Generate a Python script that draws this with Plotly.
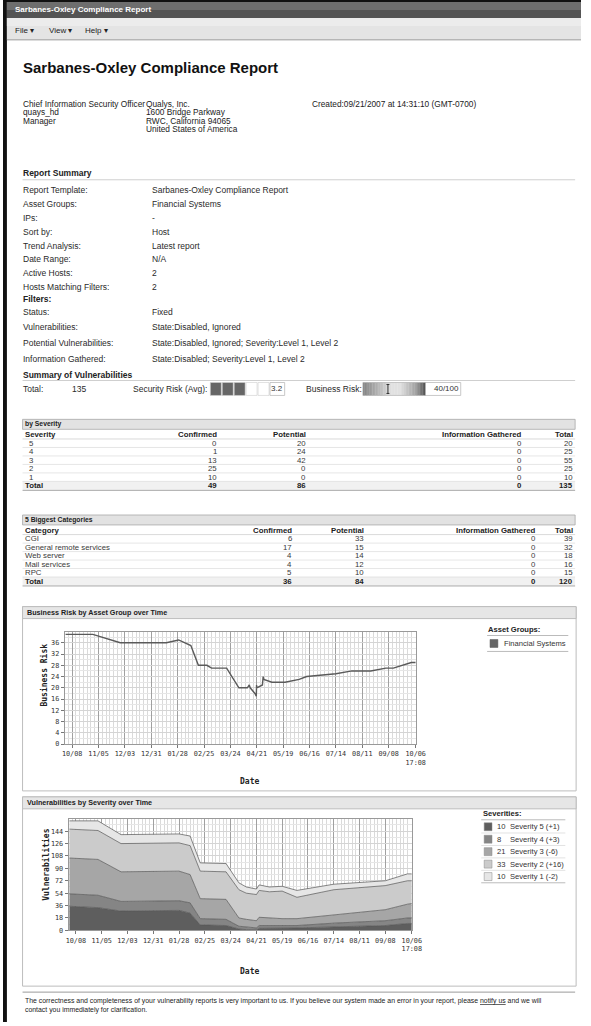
import plotly.graph_objects as go

W, H = 591, 1026
SANS = "Liberation Sans, Arial, Helvetica, sans-serif"
MONO = "DejaVu Sans Mono, Liberation Mono, monospace"

# ---------------- data ----------------
report_title = "Sarbanes-Oxley Compliance Report"
menu_items = ["File \u25be", "View \u25be", "Help \u25be"]
owner_lines = ["Chief Information Security Officer", "quays_hd", "Manager"]
address_lines = ["Qualys, Inc.", "1600 Bridge Parkway", "RWC, California 94065", "United States of America"]
created_text = "Created:09/21/2007 at 14:31:10 (GMT-0700)"

summary_labels = ["Report Template:", "Asset Groups:", "IPs:", "Sort by:", "Trend Analysis:",
                  "Date Range:", "Active Hosts:", "Hosts Matching Filters:"]
summary_values = ["Sarbanes-Oxley Compliance Report", "Financial Systems", "-", "Host",
                  "Latest report", "N/A", "2", "2"]
filter_labels = ["Status:", "Vulnerabilities:", "Potential Vulnerabilities:", "Information Gathered:"]
filter_values = ["Fixed", "State:Disabled, Ignored",
                 "State:Disabled, Ignored; Severity:Level 1, Level 2",
                 "State:Disabled; Severity:Level 1, Level 2"]

total_vulns = 135
security_risk_avg = 3.2
business_risk = 40

sev_columns = ["Severity", "Confirmed", "Potential", "Information Gathered", "Total"]
sev_levels = ["5", "4", "3", "2", "1"]
sev_confirmed = [0, 1, 13, 25, 10]
sev_potential = [20, 24, 42, 0, 0]
sev_info = [0, 0, 0, 0, 0]
sev_total = [20, 25, 55, 25, 10]

cat_columns = ["Category", "Confirmed", "Potential", "Information Gathered", "Total"]
cat_names = ["CGI", "General remote services", "Web server", "Mail services", "RPC"]
cat_confirmed = [6, 17, 4, 4, 5]
cat_potential = [33, 15, 14, 12, 10]
cat_info = [0, 0, 0, 0, 0]
cat_total = [39, 32, 18, 16, 15]

tick_dates = ["2007-10-08", "2007-11-05", "2007-12-03", "2007-12-31", "2008-01-28", "2008-02-25",
              "2008-03-24", "2008-04-21", "2008-05-19", "2008-06-16", "2008-07-14", "2008-08-11",
              "2008-09-08", "2008-10-06 17:08"]
tick_labels = ["10/08", "11/05", "12/03", "12/31", "01/28", "02/25", "03/24", "04/21", "05/19",
               "06/16", "07/14", "08/11", "09/08", "10/06<br>17:08"]

risk_dates = ["2007-10-01", "2007-10-30", "2007-11-28", "2008-01-16", "2008-01-29", "2008-02-11",
              "2008-02-19", "2008-02-28", "2008-03-04", "2008-03-20", "2008-04-02", "2008-04-11",
              "2008-04-13", "2008-04-14", "2008-04-19", "2008-04-20 12:00", "2008-04-20 18:00",
              "2008-04-21", "2008-04-27", "2008-04-27 18:00", "2008-04-28 12:00", "2008-05-07",
              "2008-05-21", "2008-06-05", "2008-06-13", "2008-07-01", "2008-07-14", "2008-07-31",
              "2008-08-20", "2008-09-05", "2008-09-13", "2008-10-02", "2008-10-06 17:08"]
risk_values = [39, 39, 36, 36, 37, 35,
               28, 28, 27, 27, 20, 20,
               21, 20, 18, 17, 21,
               20, 21, 24, 23, 22,
               22, 23, 24, 24.5, 25, 26,
               26, 27, 27, 29, 29]

vuln_dates = ["2007-10-01", "2007-11-01", "2007-11-26", "2008-01-28", "2008-02-09", "2008-02-20",
              "2008-03-19", "2008-04-02", "2008-04-10", "2008-04-21", "2008-04-24", "2008-05-05",
              "2008-05-19", "2008-06-04", "2008-07-14", "2008-09-08", "2008-10-02", "2008-10-06 17:08"]
sev5 = [35, 33, 28, 29, 25, 8, 7, 2, 1, 0.5, 3, 3, 3.5, 3.5, 5, 7, 10, 10]
sev4 = [18, 18, 14, 14, 15, 9, 9, 4, 4, 3, 4, 4, 3.5, 3.5, 5.5, 7, 8, 8]
sev3 = [52, 52, 43, 43, 41, 29, 29, 12, 11, 10.5, 12, 11, 10, 10, 11.5, 16, 20, 21]
sev2 = [42, 42, 41, 41, 42, 40, 40, 41, 38, 38, 39, 38, 40, 31, 37, 35, 34, 33]
sev1 = [12, 14, 13, 13, 14, 12, 12, 10, 9, 8, 8, 7, 7, 10, 8, 7, 10, 10]
sev_series_names = ["Severity 5", "Severity 4", "Severity 3", "Severity 2", "Severity 1"]
sev_legend_counts = [10, 8, 21, 33, 10]
sev_legend_deltas = ["+1", "+3", "-6", "+16", "-2"]
sev_colors = ["#5e5e5e", "#858585", "#a6a6a6", "#cbcbcb", "#e6e6e6"]

# ---------------- helpers ----------------
shapes, annotations = [], []


def X(x):
    return x / W


def Y(y):
    return 1 - y / H


def rect(x0, y0, x1, y1, fill=None, line=None, lw=1, layer="below"):
    shapes.append(dict(type="rect", xref="paper", yref="paper", x0=X(x0), x1=X(x1), y0=Y(y1), y1=Y(y0),
                       fillcolor=fill or "rgba(0,0,0,0)",
                       line=dict(color=line or "rgba(0,0,0,0)", width=lw if line else 0), layer=layer))


def seg(x0, y0, x1, y1, color="#bbb", w=1, layer="above"):
    shapes.append(dict(type="line", xref="paper", yref="paper", x0=X(x0), x1=X(x1), y0=Y(y0), y1=Y(y1),
                       line=dict(color=color, width=w), layer=layer))


def text(x, y, s, size=8.5, color="#222", bold=False, anchor="left", family=SANS, angle=0):
    annotations.append(dict(xref="paper", yref="paper", x=X(x), y=Y(y), text=f"<b>{s}</b>" if bold else s,
                            showarrow=False, xanchor=anchor, yanchor="middle", textangle=angle,
                            font=dict(size=size, color=color, family=family), borderpad=0,
                            borderwidth=0))


# ---------------- page chrome ----------------
rect(0, 0, W, 2, fill="#111")
rect(0, 0, 4, H, fill="#111")
rect(4, 2, W, 10, fill="#6e6e6e")
rect(4, 10, W, 18, fill="#545454")
text(12, 10, report_title, size=8, color="white", bold=True)
rect(4, 18, W, 40, fill="#e4e4e4")
rect(4, 18, W, 26, fill="#ececec")
seg(4, 40, W, 40, color="#9a9a9a", w=1)
for xm, m in zip([12, 47, 84], menu_items):
    text(xm, 31, m, size=8, color="#222")

text(20, 68, report_title, size=15, color="#111", bold=True)

for i, s in enumerate(owner_lines):
    text(20, 104 + 8.5 * i, s, size=8.3)
for i, s in enumerate(address_lines):
    text(146.5, 104 + 8.5 * i, s, size=8.3)
text(316, 104, created_text, size=8.3)

# ---------------- report summary ----------------
text(20, 174, "Report Summary", size=8.5, bold=True)
seg(20, 180.5, 585, 180.5, color="#cfcfcf")
for i, (lab, val) in enumerate(zip(summary_labels, summary_values)):
    yy = 190.5 + 14 * i
    text(20, yy, lab, size=8.5, color="#2a2a2a")
    text(152, yy, val, size=8.5, color="#2a2a2a")
text(20, 300, "Filters:", size=8.5, bold=True)
for yy, lab, val in zip([313, 328, 344, 360], filter_labels, filter_values):
    text(20, yy, lab, size=8.5, color="#2a2a2a")
    text(152, yy, val, size=8.5, color="#2a2a2a")

text(20, 376, "Summary of Vulnerabilities", size=8.5, bold=True)
seg(20, 382, 585, 382, color="#cfcfcf")
yb0, yb1 = 384, 397
ym = (yb0 + yb1) / 2
text(20, ym, "Total:", size=8.5, color="#2a2a2a")
text(71, ym, str(total_vulns), size=8.5, color="#2a2a2a")
text(133, ym, "Security Risk (Avg):", size=8.5, color="#2a2a2a")
# security risk cell bar
cell_w = 12.2
filled = int(round(security_risk_avg))
for k in range(5):
    cx0 = 212 + k * cell_w
    rect(cx0, yb0, cx0 + cell_w - 1, yb1, fill="#666" if k < filled else "white", line="#cfcfcf", lw=0.6)
rect(273, yb0, 288, yb1, fill="white", line="#bbb", lw=0.8)
text(280.5, ym, f"{security_risk_avg}", size=8, color="#333", anchor="center")
text(310, ym, "Business Risk:", size=8.5, color="#2a2a2a")
# business risk gradient bar
gx0, gx1 = 368, 432
stops = [(0.0, 130), (0.45, 225), (0.6, 225), (0.85, 160), (1.0, 80)]
n = 40
for k in range(n):
    t = (k + 0.5) / n
    for (a, ca), (b, cb) in zip(stops[:-1], stops[1:]):
        if a <= t <= b:
            c = int(ca + (cb - ca) * (t - a) / (b - a))
            break
    xa = gx0 + (gx1 - gx0) * k / n
    xb = gx0 + (gx1 - gx0) * (k + 1) / n + 0.3
    rect(xa, yb0, xb, yb1, fill=f"rgb({c},{c},{c})")
rect(gx0, yb0, gx1, yb1, line="#aaa", lw=0.6, layer="above")
mx = gx0 + (gx1 - gx0) * business_risk / 100
seg(mx, yb0 + 2, mx, yb1 - 2, color="#333", w=1)
seg(mx - 1.5, yb0 + 2, mx + 1.5, yb0 + 2, color="#333", w=1)
seg(mx - 1.5, yb1 - 2, mx + 1.5, yb1 - 2, color="#333", w=1)
rect(432, yb0, 468, yb1, fill="white", line="#bbb", lw=0.8)
text(466, ym, f"{business_risk}/100", size=8, color="#333", anchor="right")

TF = 7.8  # table font size


# ---------------- tables ----------------
def draw_table(band_y, title, columns, col_x, first_col, cols_data, row_h, first_x):
    rect(20, band_y - 5, 585, band_y + 5, fill="#e2e2e2", line="#a8a8a8", lw=0.8)
    text(23, band_y, title, size=6.8, bold=True, color="#222")
    hy = band_y + 10.5
    text(22, hy, columns[0], size=TF, bold=True, color="#222")
    for cx, cn in zip(col_x, columns[1:]):
        text(cx, hy, cn, size=TF, bold=True, color="#222", anchor="right")
    seg(20, hy + 4.2, 585, hy + 4.2, color="#cfcfcf", w=0.8)
    for r, name in enumerate(first_col):
        ry = hy + row_h * (r + 1)
        text(first_x, ry, name, size=TF, color="#3a3a3a")
        for cx, col in zip(col_x, cols_data):
            text(cx, ry, str(col[r]), size=TF, color="#3a3a3a", anchor="right")
        seg(20, ry + row_h / 2, 585, ry + row_h / 2, color="#e0e0e0", w=0.8)
    ty = hy + row_h * (len(first_col) + 1)
    rect(20, ty - row_h / 2, 585, ty + row_h / 2, fill="#f1f1f1")
    text(22, ty, "Total", size=TF, bold=True, color="#222")
    for cx, col in zip(col_x, cols_data):
        text(cx, ty, str(sum(col)), size=TF, bold=True, color="#222", anchor="right")
    seg(20, ty + row_h / 2 + 0.5, 585, ty + row_h / 2 + 0.5, color="#a8a8a8", w=1)


draw_table(426, "by Severity", sev_columns, [219, 310, 531, 583], sev_levels,
           [sev_confirmed, sev_potential, sev_info, sev_total], 8.5, 27)
draw_table(522, "5 Biggest Categories", cat_columns, [296, 369, 545, 583], cat_names,
           [cat_confirmed, cat_potential, cat_info, cat_total], 8.5, 22)

# ---------------- chart panels ----------------
for (p0, p1, ttl) in [(609, 794, "Business Risk by Asset Group over Time"),
                      (800, 990, "Vulnerabilities by Severity over Time")]:
    rect(20, p0, 586, p1, fill="white", line="#bdbdbd", lw=1)
    rect(20, p0, 586, p0 + 12, fill="#e6e6e6", line="#bdbdbd", lw=1)
    text(25, p0 + 6, ttl, size=7.2, bold=True, color="#222")

# legend 1
text(496, 632, "Asset Groups:", size=7.6, bold=True, color="#222")
seg(495, 638, 578, 638, color="#bbb")
rect(498, 642, 506, 650, fill="#666", line="#555", lw=0.5, layer="above")
text(512, 646, "Financial Systems", size=7.6, color="#333")
seg(495, 654, 578, 654, color="#bbb")

# legend 2
text(491, 817, "Severities:", size=7.6, bold=True, color="#222")
seg(489, 823, 575, 823, color="#bbb")
for k in range(5):
    ry = 830 + 12.5 * k
    rect(492, ry - 4, 500, ry + 4, fill=sev_colors[k], line="#888", lw=0.5, layer="above")
    text(505, ry, str(sev_legend_counts[k]), size=7.6, color="#333")
    text(518, ry, f"{sev_series_names[k]} ({sev_legend_deltas[k]})", size=7.6, color="#333")
    seg(489, ry + 6.25, 575, ry + 6.25, color="#bbb" if k == 4 else "#e2e2e2")

# axis titles
text(242, 785, "Date", size=8, bold=True, family=MONO)
text(37, 678, "Business Risk", size=8, bold=True, family=MONO, angle=-90)
text(242, 975, "Date", size=8, bold=True, family=MONO)
text(38, 868, "Vulnerabilities", size=8, bold=True, family=MONO, angle=-90)

# footer
seg(20, 996, 585, 996, color="#9a9a9a")
text(23, 1005, "The correctness and completeness of your vulnerability reports is very important to us. "
     "If you believe our system made an error in your report, please <u>notify us</u> and we will",
     size=6.9, color="#222")
text(23, 1013.5, "contact you immediately for clarification.", size=6.9, color="#222")

# ---------------- figure ----------------
fig = go.Figure()
fig.add_trace(go.Scatter(x=risk_dates, y=risk_values, mode="lines", line=dict(color="#5a5a5a", width=1.4),
                         name="Financial Systems", xaxis="x", yaxis="y", hoverinfo="skip"))
for name, vals, col in zip(sev_series_names, [sev5, sev4, sev3, sev2, sev1], sev_colors):
    fig.add_trace(go.Scatter(x=vuln_dates, y=vals, mode="lines", stackgroup="sev", name=name,
                             line=dict(color="#555", width=0.7), fillcolor=col,
                             xaxis="x2", yaxis="y2", hoverinfo="skip"))

xcommon = dict(type="date", range=["2007-09-30", "2008-10-06 17:08"], tickmode="array",
               tickvals=tick_dates, ticktext=tick_labels,
               tickfont=dict(family=MONO, size=6.8, color="#333"), ticks="outside", ticklen=3,
               tickcolor="#777", showgrid=True, gridcolor="#a0a0a0", gridwidth=1,
               minor=dict(dtick=4 * 86400000, tick0="2007-10-08", showgrid=True, gridcolor="#dadada",
                          ticks=""),
               showline=True, linecolor="#999", mirror=True, zeroline=False, fixedrange=True)
ycommon = dict(tickfont=dict(family=MONO, size=6.8, color="#333"), ticks="outside", ticklen=3,
               tickcolor="#777", showgrid=True, gridcolor="#d4d4d4", showline=True, linecolor="#999",
               mirror=True, zeroline=False, fixedrange=True)

fig.update_layout(
    width=W, height=H, autosize=False, margin=dict(l=0, r=0, t=0, b=0),
    paper_bgcolor="white", plot_bgcolor="white", showlegend=False,
    xaxis=dict(domain=[X(63), X(422)], anchor="y", **xcommon),
    yaxis=dict(domain=[Y(747), Y(634)], anchor="x", range=[0, 40], tickvals=list(range(0, 37, 4)),
               minor=dict(dtick=2, showgrid=True, gridcolor="#e6e6e6"), **ycommon),
    xaxis2=dict(domain=[X(67), X(418)], anchor="y2", **xcommon),
    yaxis2=dict(domain=[Y(934), Y(822)], anchor="x2", range=[0, 162], tickvals=list(range(0, 145, 18)),
                minor=dict(dtick=9, showgrid=True, gridcolor="#e6e6e6"), **ycommon),
    shapes=shapes, annotations=annotations,
)

fig.write_html(
    "out.html", config={"displayModeBar": False, "responsive": False},
    post_script=("document.documentElement.style.margin='0px';document.body.style.margin='0px';"
                 "document.documentElement.style.overflow='hidden';document.body.style.overflow='hidden';"
                 "var d=document.getElementById('{plot_id}');d.style.position='fixed';"
                 "d.style.left='0px';d.style.top='0px';"))
